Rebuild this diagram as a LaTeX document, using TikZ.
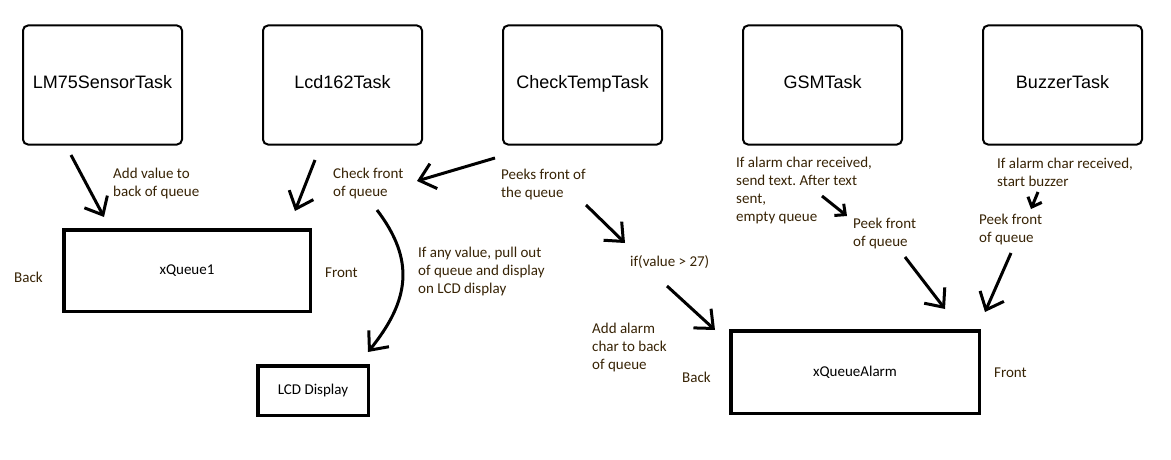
\documentclass[tikz,border=0pt]{standalone}
\usepackage{fontspec}
\setmainfont{Carlito}
\newfontfamily\taskfont{Liberation Sans}
\usetikzlibrary{arrows.meta}
\frenchspacing

\definecolor{notebrown}{RGB}{55,35,5}

\begin{document}
\begin{tikzpicture}[x=1pt, y=-1pt, font=\fontsize{15}{18}\selectfont,
	taskbox/.style={draw, line width=2pt, rounded corners=5pt, minimum width=159pt, minimum height=119pt, text height=13pt, text depth=6pt, font=\taskfont\fontsize{18}{22}\selectfont},
	queuebox/.style={draw, line width=3.5pt, inner sep=0pt},
	note/.style={notebrown, align=left, anchor=west, inner sep=0pt},
	flow/.style={line width=3pt, -{Straight Barb[length=15pt,width=26pt]}},
	tick/.style={line width=3pt, -{Straight Barb[length=8pt,width=15pt]}}]
		
		\useasboundingbox (0,0) rectangle (1171,460);
		
		% --- 1. Task Boxes (top row) ---
		\foreach \i/\name/\txt in {0/lm75/LM75SensorTask, 1/lcd/Lcd162Task, 2/check/CheckTempTask, 3/gsm/GSMTask, 4/buzzer/BuzzerTask} {
			\node[taskbox] (\name) at (102.5+240*\i, 85) {\txt};
		}
		
		% --- 2. Queues and the display ---
		\node[queuebox, minimum width=246.5pt, minimum height=81.5pt] (q1) at (187, 270.5) {xQueue1};
		\node[queuebox, minimum width=110.5pt, minimum height=49.5pt] (disp) at (313, 390.5) {LCD Display};
		\node[queuebox, minimum width=248.5pt, minimum height=82.5pt] (qalarm) at (855, 372) {xQueueAlarm};
		
		% Back / Front markers
		\node[note] (q1back) at (14, 277) {Back};
		\node[note] (q1front) at (325, 273) {Front};
		\node[note] (qaback) at (682, 377) {Back};
		\node[note] (qafront) at (994, 373) {Front};
		
		% --- 3. Annotations ---
		\node[note] (addval) at (113, 183.5) {Add value to\\back of queue};
		\node[note] (chkfront) at (333, 183.5) {Check front\\of queue};
		\node[note] (peeks) at (501, 184.5) {Peeks front of\\the queue};
		\node[note] (pullout) at (418, 271) {If any value, pull out\\of queue and display\\on LCD display};
		\node[note] (cond) at (630, 262) {if(value > 27)};
		\node[note] (addalarm) at (592, 347) {Add alarm\\char to back\\of queue};
		\node[note] (gsmnote) at (736, 190.5) {If alarm char received,\\send text. After text\\sent,\\empty queue};
		\node[note] (gsmpeek) at (853, 234) {Peek front\\of queue};
		\node[note] (buzznote) at (997, 172) {If alarm char received,\\start buzzer};
		\node[note] (buzzpeek) at (979, 229.5) {Peek front\\of queue};
		
		% --- 4. Arrow end points ---
		\coordinate (a1s) at (71,155);   \coordinate (a1e) at (104,217);
		\coordinate (a2s) at (315,160);  \coordinate (a2e) at (295,211);
		\coordinate (a3s) at (495,158);  \coordinate (a3e) at (417,181);
		\coordinate (a4s) at (377,210);  \coordinate (a4e) at (368,352);
		\coordinate (a5s) at (586,205);  \coordinate (a5e) at (625,243);
		\coordinate (a6s) at (667,286);  \coordinate (a6e) at (715,330);
		\coordinate (a7s) at (822,196);  \coordinate (a7e) at (847,216);
		\coordinate (a8s) at (905,257);  \coordinate (a8e) at (945,309);
		\coordinate (a9s) at (1038,192); \coordinate (a9e) at (1031,209);
		\coordinate (a10s) at (1011,253); \coordinate (a10e) at (985,312);
		
		% --- 5. Arrows ---
		\draw[flow] (a1s) -- (a1e);
		\draw[flow] (a2s) -- (a2e);
		\draw[flow] (a3s) -- (a3e);
		\draw[flow] (a4s) .. controls (415,260) and (410,300) .. (a4e);
		\draw[flow] (a5s) -- (a5e);
		\draw[flow] (a6s) -- (a6e);
		\draw[tick] (a7s) -- (a7e);
		\draw[flow] (a8s) -- (a8e);
		\draw[tick] (a9s) -- (a9e);
		\draw[flow] (a10s) -- (a10e);
		
	\end{tikzpicture}
\end{document}
